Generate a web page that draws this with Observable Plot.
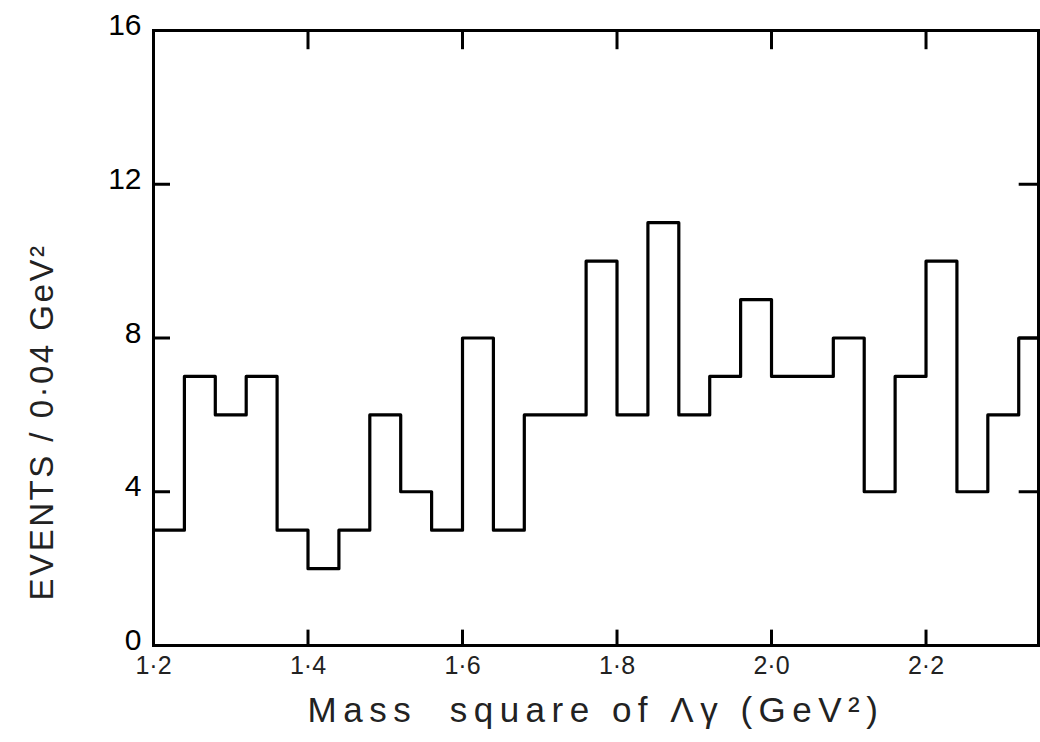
<!DOCTYPE html>
<html>
<head>
<meta charset="utf-8">
<script src="https://cdn.jsdelivr.net/npm/d3@7"></script>
<script src="https://cdn.jsdelivr.net/npm/@observablehq/plot@0.6"></script>
<style>
  html, body { margin: 0; padding: 0; background: #fff; }
  #chart svg { display: block; }
</style>
</head>
<body>
<div id="chart"></div>
<script>
// Bin lower edges (GeV^2), bin width 0.04
const binStart = [1.20, 1.24, 1.28, 1.32, 1.36, 1.40, 1.44, 1.48, 1.52, 1.56,
                  1.60, 1.64, 1.68, 1.72, 1.76, 1.80, 1.84, 1.88, 1.92, 1.96,
                  2.00, 2.04, 2.08, 2.12, 2.16, 2.20, 2.24, 2.28, 2.32];
// Events per bin
const counts = [3, 7, 6, 7, 3, 2, 3, 6, 4, 3,
                8, 3, 6, 6, 10, 6, 11, 6, 7, 9,
                7, 7, 8, 4, 7, 10, 4, 6, 8];
const binWidth = 0.04;
const xDomain = [1.2, 2.3456];
const yDomain = [0, 16];
const xTicks = [1.2, 1.4, 1.6, 1.8, 2.0, 2.2];
const yTicks = [0, 4, 8, 12, 16];
const xLabel = "Mass  square of Λγ (GeV²)";
const yLabel = "EVENTS / 0·04 GeV²";

const stepData = binStart.map((x, i) => ({x, y: counts[i]}));
stepData.push({x: binStart[binStart.length - 1] + binWidth, y: counts[counts.length - 1]});

const ink = "#000";
const plot = Plot.plot({
  width: 1040,
  height: 742,
  marginLeft: 153,
  marginRight: 2,
  marginTop: 30,
  marginBottom: 97,
  x: {domain: xDomain, axis: null},
  y: {domain: yDomain, axis: null},
  style: {fontFamily: "'Liberation Sans', 'DejaVu Sans', sans-serif", color: ink, background: "#fff", overflow: "visible"},
  marks: [
    Plot.line(stepData, {x: "x", y: "y", curve: "step-after", stroke: ink, strokeWidth: 3.2, clip: true}),
    Plot.frame({stroke: ink, strokeWidth: 3}),
    Plot.ruleX(xTicks.slice(1), {x: d => d, y1: 0, y2: 0.4, stroke: ink, strokeWidth: 3}),
    Plot.ruleX(xTicks.slice(1), {x: d => d, y1: 16, y2: 15.5, stroke: ink, strokeWidth: 3}),
    Plot.ruleY(yTicks.slice(1, -1), {y: d => d, x1: xDomain[0], x2: xDomain[0] + 0.022, stroke: ink, strokeWidth: 3}),
    Plot.ruleY(yTicks.slice(1, -1), {y: d => d, x1: xDomain[1], x2: xDomain[1] - 0.025, stroke: ink, strokeWidth: 3}),
    Plot.text(yTicks, {x: xDomain[0], y: d => d, text: d => String(d), textAnchor: "end", dx: -12, dy: -5, fontSize: 30, fill: ink}),
    Plot.text(xTicks, {x: d => d, y: yDomain[0], text: d => d.toFixed(1).replace(".", "·"), dy: 11, lineAnchor: "top", fontSize: 25, fill: "#222"}),
    Plot.text([xLabel], {frameAnchor: "bottom", textAnchor: "middle", lineAnchor: "middle", dy: 65, fontSize: 35, fill: "#222"}),
    Plot.text([yLabel], {frameAnchor: "left", textAnchor: "middle", lineAnchor: "middle", rotate: -90, dx: -111, dy: 84, fontSize: 33, fill: "#222"})
  ]
});

d3.select(plot).selectAll("text").each(function() {
  const t = this.textContent;
  if (t === xLabel) this.setAttribute("letter-spacing", "6.5");
  if (t === yLabel) this.setAttribute("letter-spacing", "2.5");
});

document.getElementById("chart").appendChild(plot);
</script>
</body>
</html>
